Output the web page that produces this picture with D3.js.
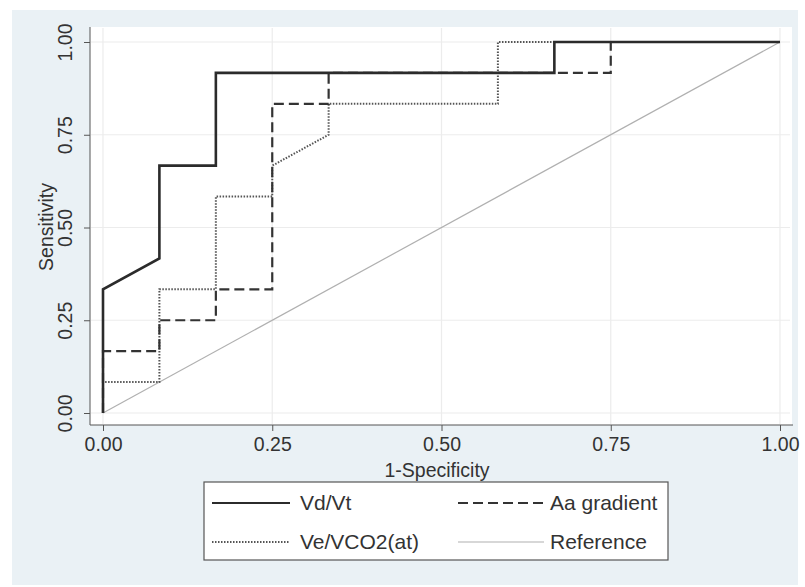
<!DOCTYPE html>
<html lang="en">
<head>
    <meta charset="UTF-8">
    <title>ROC curves</title>
    <script src="https://d3js.org/d3.v7.min.js"></script>
    <style>
        body{
            margin:0;
            background:#fff;
        }
        text{
            font-family:"Liberation Sans", Arial, sans-serif;
            fill:#333;
        }
    </style>
</head>
<body>
<script>
    // 1-specificity / sensitivity points of each curve
    const vdvt_x = [0, 0, 0.0833, 0.0833, 0.1667, 0.1667, 0.6667, 0.6667, 1];
    const vdvt_y = [0, 0.3333, 0.4167, 0.6667, 0.6667, 0.9167, 0.9167, 1, 1];

    const aa_x = [0, 0, 0.0833, 0.0833, 0.1667, 0.1667, 0.25, 0.25, 0.3333, 0.3333, 0.75, 0.75, 1];
    const aa_y = [0, 0.1667, 0.1667, 0.25, 0.25, 0.3333, 0.3333, 0.8333, 0.8333, 0.9167, 0.9167, 1, 1];

    const ve_x = [0, 0, 0.0833, 0.0833, 0.1667, 0.1667, 0.25, 0.25, 0.3333, 0.3333, 0.5833, 0.5833, 1];
    const ve_y = [0, 0.0833, 0.0833, 0.3333, 0.3333, 0.5833, 0.5833, 0.6667, 0.75, 0.8333, 0.8333, 1, 1];

    const ref_x = [0, 1];
    const ref_y = [0, 1];

    const ticks = [0, 0.25, 0.5, 0.75, 1];
    const series_names = ["Vd/Vt", "Aa gradient", "Ve/VCO2(at)", "Reference"];

    const width = 805;
    const height = 587;

    let svg = d3.select("body").append("svg")
        .attr("width", width)
        .attr("height", height);

    // stata style background
    svg.append("rect")
        .attr("x", 12).attr("y", 10)
        .attr("width", 786).attr("height", 575)
        .attr("fill", "#eaf1f5");

    svg.append("rect")
        .attr("x", 90).attr("y", 27)
        .attr("width", 702).attr("height", 398)
        .attr("fill", "#fff");

    const x = d3.scaleLinear().domain([0, 1]).range([103, 780]);
    const y = d3.scaleLinear().domain([0, 1]).range([413, 42]);

    // grid
    const grid = svg.append("g");
    grid.selectAll(".gx").data(ticks).enter().append("line")
        .attr("x1", d => x(d)).attr("x2", d => x(d))
        .attr("y1", 28).attr("y2", 424)
        .attr("stroke", "#ececec").attr("stroke-width", 1.2);
    grid.selectAll(".gy").data(ticks).enter().append("line")
        .attr("y1", d => y(d)).attr("y2", d => y(d))
        .attr("x1", 91).attr("x2", 790)
        .attr("stroke", "#ececec").attr("stroke-width", 1.2);

    // axes
    const xAxis = svg.append("g")
        .attr("transform", "translate(0,425)")
        .call(d3.axisBottom(x).tickValues(ticks).tickFormat(d3.format(".2f")).tickSize(6).tickSizeOuter(0));
    xAxis.select(".domain").attr("d", "M90,0H793").attr("stroke", "#555");
    xAxis.selectAll(".tick line").attr("stroke", "#555");
    xAxis.selectAll(".tick text")
        .attr("y", 12)
        .style("font-size", "19.5px")
        .style("font-family", "Liberation Sans, Arial, sans-serif")
        .attr("fill", "#333");

    const yAxis = svg.append("g")
        .attr("transform", "translate(90,0)")
        .call(d3.axisLeft(y).tickValues(ticks).tickFormat(d3.format(".2f")).tickSize(6).tickSizeOuter(0));
    yAxis.select(".domain").attr("d", "M0,27V425").attr("stroke", "#555");
    yAxis.selectAll(".tick line").attr("stroke", "#555");
    yAxis.selectAll(".tick text")
        .attr("x", 0).attr("y", 0).attr("dy", 0)
        .attr("text-anchor", "middle")
        .attr("transform", "translate(-18,0) rotate(-90)")
        .style("font-size", "19.5px")
        .style("font-family", "Liberation Sans, Arial, sans-serif")
        .attr("fill", "#333");

    svg.append("text")
        .attr("x", 437).attr("y", 477)
        .attr("text-anchor", "middle")
        .style("font-size", "19.5px")
        .text("1-Specificity");

    svg.append("text")
        .attr("transform", "translate(53,227) rotate(-90)")
        .attr("text-anchor", "middle")
        .style("font-size", "19.5px")
        .text("Sensitivity");

    // curves
    const line = d3.line().x(d => x(d[0])).y(d => y(d[1]));
    const styles = {
        "Vd/Vt": {color: "#2b2b2b", w: 2.6, dash: null},
        "Aa gradient": {color: "#333", w: 2.2, dash: "10,5"},
        "Ve/VCO2(at)": {color: "#555", w: 2, dash: "1.5,1.5"},
        "Reference": {color: "#b0b0b0", w: 1.2, dash: null}
    };
    const series = [
        {name: "Reference", pts: d3.zip(ref_x, ref_y)},
        {name: "Ve/VCO2(at)", pts: d3.zip(ve_x, ve_y)},
        {name: "Aa gradient", pts: d3.zip(aa_x, aa_y)},
        {name: "Vd/Vt", pts: d3.zip(vdvt_x, vdvt_y)}
    ];

    svg.append("g").selectAll("path")
        .data(series)
        .enter()
        .append("path")
        .attr("d", d => line(d.pts))
        .attr("fill", "none")
        .attr("stroke", d => styles[d.name].color)
        .attr("stroke-width", d => styles[d.name].w)
        .attr("stroke-dasharray", d => styles[d.name].dash);

    // legend
    const legend = svg.append("g");
    legend.append("rect")
        .attr("x", 204).attr("y", 482)
        .attr("width", 464).attr("height", 78)
        .attr("fill", "#fff")
        .attr("stroke", "#555").attr("stroke-width", 1.2);

    const pos = {
        "Vd/Vt": [212, 503],
        "Aa gradient": [458, 503],
        "Ve/VCO2(at)": [212, 542],
        "Reference": [458, 542]
    };
    const items = legend.selectAll(".item")
        .data(series_names)
        .enter()
        .append("g")
        .attr("transform", d => `translate(${pos[d][0]},${pos[d][1]})`);
    items.append("line")
        .attr("x1", 0).attr("x2", d => d == "Reference" || d == "Aa gradient" ? 86 : 78)
        .attr("y1", 0).attr("y2", 0)
        .attr("stroke", d => styles[d].color)
        .attr("stroke-width", d => Math.min(styles[d].w, 2))
        .attr("stroke-dasharray", d => styles[d].dash);
    items.append("text")
        .attr("x", d => d == "Reference" || d == "Aa gradient" ? 92 : 88)
        .attr("y", 7)
        .style("font-size", "21px")
        .text(d => d);
</script>
</body>
</html>
